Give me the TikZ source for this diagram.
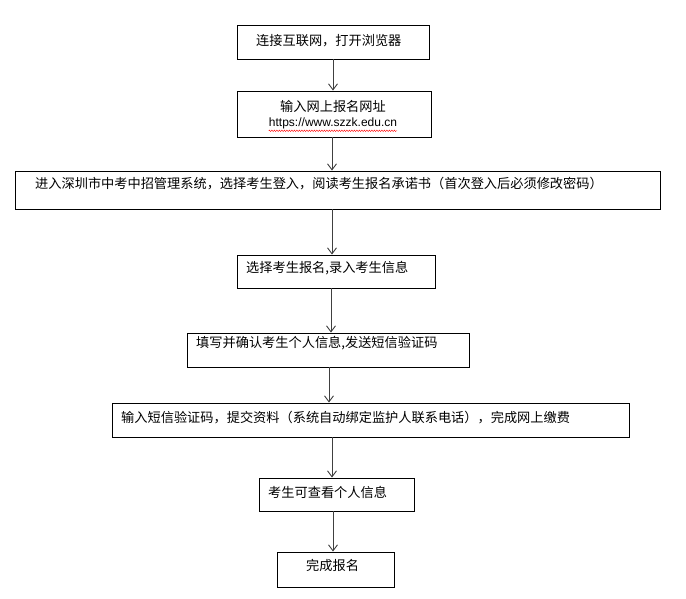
\documentclass[tikz,border=0pt]{standalone}
\usepackage{fontspec}
\newfontfamily\cjk{Noto Sans CJK SC}
\usetikzlibrary{arrows.meta,decorations.pathmorphing}
\begin{document}
\begin{tikzpicture}[x=1pt,y=-1pt,
  box/.style={draw,line width=0.9pt,inner sep=0pt},
  txt/.style={anchor=west,inner sep=0pt,font=\cjk\fontsize{13.2}{15}\selectfont},
  arr/.style={draw=black!75,line width=0.9pt,-{Straight Barb[length=6pt,width=9pt]}}]
\useasboundingbox (0,0) rectangle (686,598);
\node[box,minimum width=192,minimum height=34] (b1) at (333,42) {};
\node[box,minimum width=194,minimum height=46] (b2) at (334,114) {};
\node[box,minimum width=645,minimum height=38] (b3) at (337.5,190) {};
\node[box,minimum width=198,minimum height=33] (b4) at (336,271.5) {};
\node[box,minimum width=282,minimum height=34] (b5) at (328,350) {};
\node[box,minimum width=517,minimum height=34] (b6) at (370.5,420) {};
\node[box,minimum width=155,minimum height=33] (b7) at (336.5,494.5) {};
\node[box,minimum width=117,minimum height=35] (b8) at (335.5,569.5) {};
\node[txt] (t1) at (256,41) {连接互联网，打开浏览器};
\node[txt,anchor=center] (t2a) at (333,106) {输入网上报名网址};
\node[txt,anchor=center,font=\fontspec{Liberation Sans}\fontsize{12}{14}\selectfont] (t2b) at (333,123) {https://www.szzk.edu.cn};
\draw[red,decorate,decoration={zigzag,amplitude=0.8pt,segment length=2.5pt}] ([yshift=-2pt]t2b.south west) -- ([yshift=-2pt]t2b.south east);
\node[txt] (t3) at (35,184) {进入深圳市中考中招管理系统，选择考生登入，阅读考生报名承诺书（首次登入后必须修改密码）};
\node[txt] (t4) at (246,268) {选择考生报名,录入考生信息};
\node[txt] (t5) at (196,343) {填写并确认考生个人信息,发送短信验证码};
\node[txt] (t6) at (121,418) {输入短信验证码，提交资料（系统自动绑定监护人联系电话），完成网上缴费};
\node[txt] (t7) at (268,492) {考生可查看个人信息};
\node[txt] (t8) at (306,565) {完成报名};
\draw[arr] (b1.south -| 333,0) -- (b2.north -| 333,0);
\draw[arr] (b2.south -| 332,0) -- (b3.north -| 332,0);
\draw[arr] (b3.south -| 332,0) -- (b4.north -| 332,0);
\draw[arr] (b4.south -| 331,0) -- (b5.north -| 331,0);
\draw[arr] (b5.south -| 329,0) -- (b6.north -| 329,0);
\draw[arr] (b6.south -| 332,0) -- (b7.north -| 332,0);
\draw[arr] (b7.south -| 333,0) -- (b8.north -| 333,0);
\end{tikzpicture}
\end{document}
